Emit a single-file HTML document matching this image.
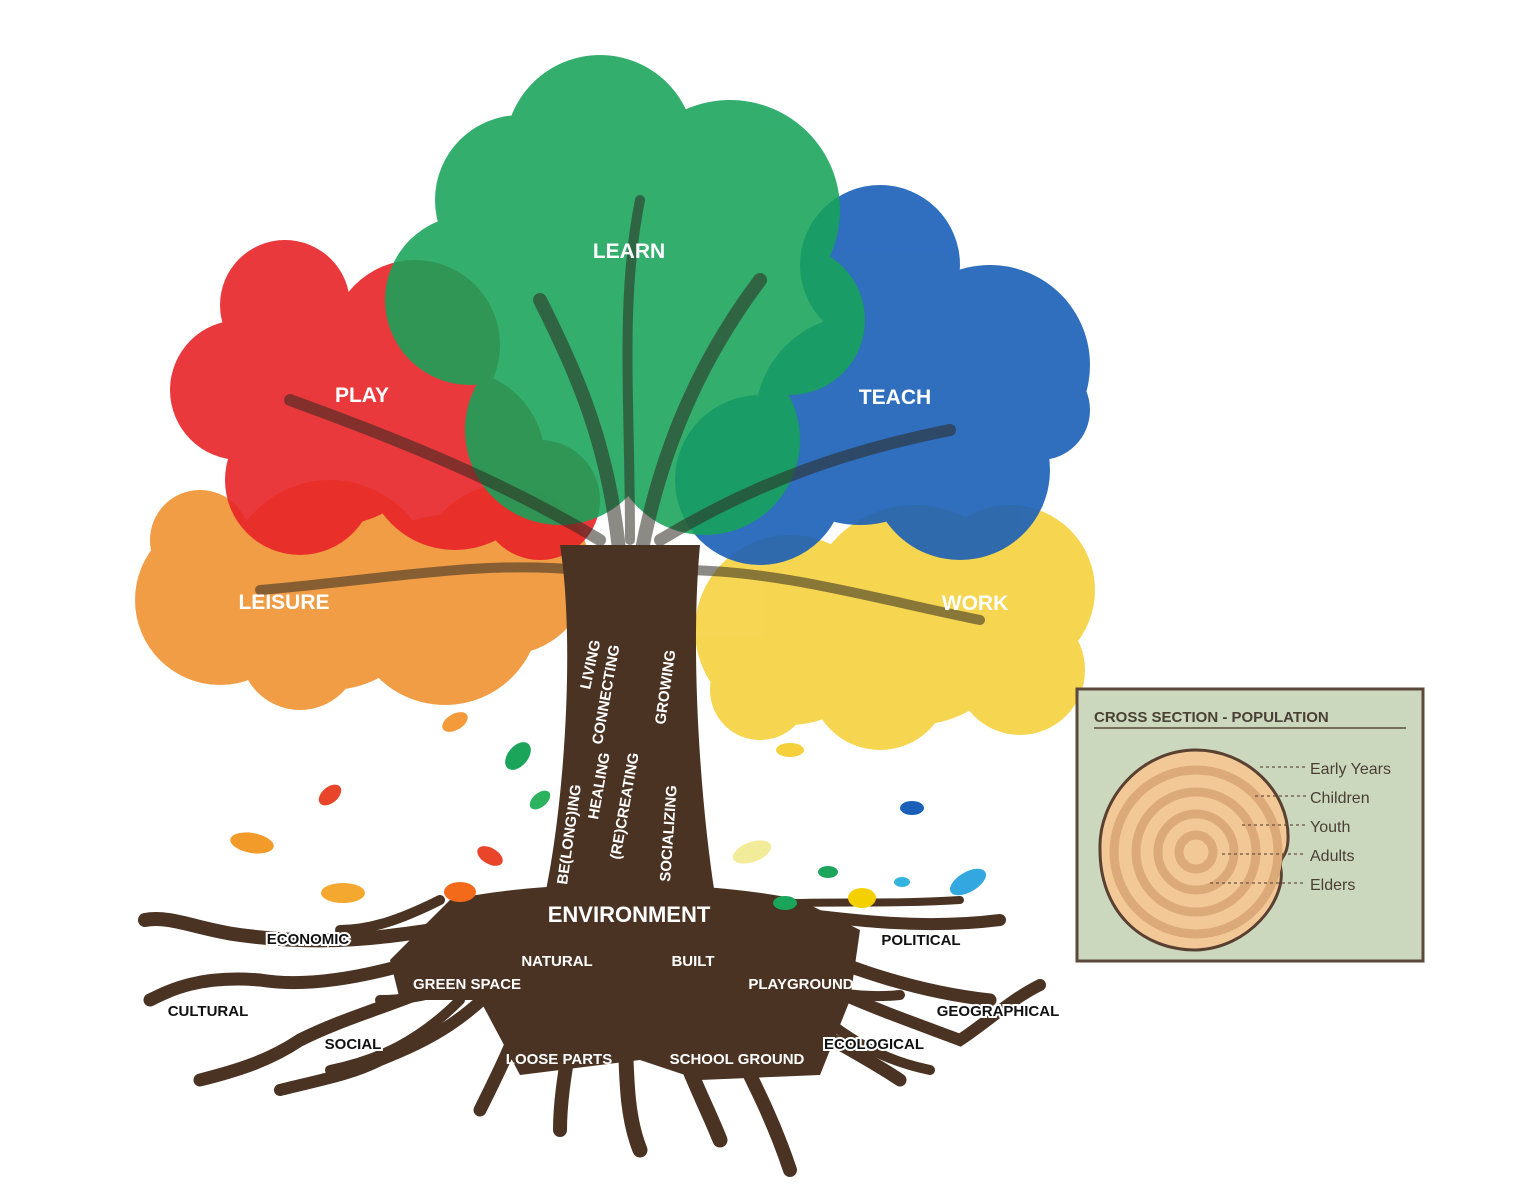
<!DOCTYPE html>
<html><head><meta charset="utf-8"><style>
html,body{margin:0;padding:0;background:#fff}
svg{display:block}
text{font-family:"Liberation Sans",sans-serif;font-weight:bold}
</style></head><body>
<svg width="1536" height="1187" viewBox="0 0 1536 1187" xmlns="http://www.w3.org/2000/svg">
<rect width="1536" height="1187" fill="#fff"/>
<g fill="#f0902c" opacity="0.88">
<circle cx="220" cy="600" r="85"/><circle cx="330" cy="585" r="105"/><circle cx="445" cy="610" r="95"/><circle cx="300" cy="650" r="60"/><circle cx="505" cy="570" r="85"/><circle cx="200" cy="540" r="50"/>
</g>
<g fill="#f5d03a" opacity="0.88">
<circle cx="790" cy="630" r="95"/><circle cx="915" cy="615" r="110"/><circle cx="1010" cy="590" r="85"/><circle cx="880" cy="680" r="70"/><circle cx="1020" cy="670" r="65"/><circle cx="760" cy="690" r="50"/>
</g>
<g fill="#e82428" opacity="0.9">
<circle cx="285" cy="305" r="65"/><circle cx="240" cy="390" r="70"/><circle cx="335" cy="420" r="105"/><circle cx="415" cy="345" r="85"/><circle cx="455" cy="460" r="90"/><circle cx="300" cy="480" r="75"/><circle cx="540" cy="500" r="60"/>
</g>
<g fill="#1a5fb8" opacity="0.9">
<circle cx="880" cy="265" r="80"/><circle cx="990" cy="365" r="100"/><circle cx="860" cy="420" r="105"/><circle cx="960" cy="470" r="90"/><circle cx="760" cy="480" r="85"/><circle cx="1040" cy="410" r="50"/>
</g>
<g fill="#17a35a" opacity="0.88">
<circle cx="600" cy="150" r="95"/><circle cx="520" cy="200" r="85"/><circle cx="730" cy="210" r="110"/><circle cx="470" cy="300" r="85"/><circle cx="640" cy="300" r="150"/><circle cx="790" cy="320" r="75"/><circle cx="560" cy="430" r="95"/><circle cx="705" cy="440" r="95"/>
</g>
<g stroke="#2e2a20" stroke-opacity="0.55" fill="none" stroke-linecap="round">
<path d="M620,560 C610,450 580,380 540,300" stroke-width="14"/>
<path d="M640,560 C660,450 700,360 760,280" stroke-width="14"/>
<path d="M600,540 C500,480 400,440 290,400" stroke-width="12"/>
<path d="M660,540 C760,480 850,450 950,430" stroke-width="12"/>
<path d="M580,570 C480,560 380,580 260,590" stroke-width="10"/>
<path d="M680,570 C780,570 880,600 980,620" stroke-width="10"/>
<path d="M630,540 C630,400 620,300 640,200" stroke-width="10"/>
</g>
<path d="M560,545 C575,640 565,800 545,895 L715,895 C700,800 690,650 700,545 Z" fill="#4a3323"/>
<path d="M450,900 C540,880 700,878 800,900 L860,930 L850,1000 L820,1075 L700,1080 L640,1060 L520,1075 L480,1000 L400,1000 L390,960 Z" fill="#4a3323"/>
<g stroke="#4a3323" fill="none" stroke-linecap="round">
<path d="M500,920 C420,930 350,950 240,935 C200,930 170,915 145,920" stroke-width="14"/>
<path d="M480,940 C400,970 320,990 260,980 C200,975 170,990 150,1000" stroke-width="13"/>
<path d="M500,955 C420,1000 360,1010 300,1040 C270,1060 240,1070 200,1080" stroke-width="13"/>
<path d="M520,960 C470,1020 430,1040 380,1060 C350,1075 320,1080 280,1090" stroke-width="12"/>
<path d="M440,900 C400,920 370,930 340,930" stroke-width="10"/>
<path d="M540,965 C520,1030 500,1070 480,1110" stroke-width="13"/>
<path d="M580,965 C575,1030 560,1080 560,1130" stroke-width="14"/>
<path d="M620,965 C630,1040 620,1100 640,1150" stroke-width="15"/>
<path d="M660,965 C670,1040 700,1090 720,1140" stroke-width="15"/>
<path d="M700,960 C720,1030 760,1080 790,1170" stroke-width="14"/>
<path d="M730,955 C780,1020 840,1040 900,1080" stroke-width="13"/>
<path d="M750,945 C820,990 880,1010 960,1040 C990,1020 1010,1000 1040,985" stroke-width="12"/>
<path d="M760,930 C830,960 900,990 990,1000" stroke-width="13"/>
<path d="M770,910 C850,920 920,930 1000,920" stroke-width="12"/>
<path d="M760,905 C820,900 880,905 960,900" stroke-width="8"/>
<path d="M520,955 C460,990 420,1000 380,1000" stroke-width="10"/>
<path d="M740,950 C800,990 850,1000 900,995" stroke-width="10"/>
<path d="M460,1000 C420,1040 380,1060 330,1070" stroke-width="10"/>
<path d="M800,1000 C850,1040 880,1060 930,1070" stroke-width="10"/>
</g>
<g>
<ellipse cx="455" cy="722" rx="14" ry="8" fill="#f39a3a" transform="rotate(-30 455 722)"/>
<ellipse cx="518" cy="756" rx="16" ry="10" fill="#1aa55a" transform="rotate(-50 518 756)"/>
<ellipse cx="330" cy="795" rx="13" ry="8" fill="#e8452a" transform="rotate(-40 330 795)"/>
<ellipse cx="540" cy="800" rx="12" ry="7" fill="#2db35f" transform="rotate(-40 540 800)"/>
<ellipse cx="252" cy="843" rx="22" ry="10" fill="#f29a2a" transform="rotate(10 252 843)"/>
<ellipse cx="490" cy="856" rx="14" ry="8" fill="#e8452a" transform="rotate(30 490 856)"/>
<ellipse cx="790" cy="750" rx="14" ry="7" fill="#f5d03a"/>
<ellipse cx="912" cy="808" rx="12" ry="7" fill="#1a5fb8"/>
<ellipse cx="752" cy="852" rx="20" ry="10" fill="#f2ec9a" transform="rotate(-20 752 852)"/>
<ellipse cx="828" cy="872" rx="10" ry="6" fill="#1aa55a"/>
<ellipse cx="862" cy="898" rx="14" ry="10" fill="#f5d000"/>
<ellipse cx="902" cy="882" rx="8" ry="5" fill="#33b5e0"/>
<ellipse cx="968" cy="882" rx="20" ry="10" fill="#33a8e0" transform="rotate(-30 968 882)"/>
<ellipse cx="343" cy="893" rx="22" ry="10" fill="#f5a830"/>
<ellipse cx="460" cy="892" rx="16" ry="10" fill="#f26a1a"/>
<ellipse cx="785" cy="903" rx="12" ry="7" fill="#1aa55a"/>
</g>
<g fill="#fff" font-size="21" text-anchor="middle">
<text x="629" y="258">LEARN</text>
<text x="362" y="402">PLAY</text>
<text x="895" y="404">TEACH</text>
<text x="284" y="609">LEISURE</text>
<text x="975" y="610">WORK</text>
</g>
<g fill="#fff" font-size="15">
<text transform="translate(590,690) rotate(-78)">LIVING</text>
<text transform="translate(602,745) rotate(-80)">CONNECTING</text>
<text transform="translate(665,725) rotate(-82)">GROWING</text>
<text transform="translate(567,885) rotate(-82)">BE(LONG)ING</text>
<text transform="translate(598,820) rotate(-80)">HEALING</text>
<text transform="translate(620,860) rotate(-80)">(RE)CREATING</text>
<text transform="translate(670,882) rotate(-86)">SOCIALIZING</text>
</g>
<text x="629" y="922" fill="#fff" font-size="22" text-anchor="middle">ENVIRONMENT</text>
<g fill="#fff" font-size="15" text-anchor="middle">
<text x="557" y="966">NATURAL</text>
<text x="693" y="966">BUILT</text>
<text x="467" y="989">GREEN SPACE</text>
<text x="801" y="989">PLAYGROUND</text>
<text x="559" y="1064">LOOSE PARTS</text>
<text x="737" y="1064">SCHOOL GROUND</text>
</g>
<g fill="#111" font-size="15" text-anchor="middle" stroke="#fff" stroke-width="4" paint-order="stroke">
<text x="308" y="944">ECONOMIC</text>
<text x="208" y="1016">CULTURAL</text>
<text x="353" y="1049">SOCIAL</text>
<text x="921" y="945">POLITICAL</text>
<text x="998" y="1016">GEOGRAPHICAL</text>
<text x="874" y="1049">ECOLOGICAL</text>
</g>
<rect x="1077" y="689" width="346" height="272" fill="#cbd8bd" stroke="#5b4a3b" stroke-width="3"/>
<text x="1094" y="722" font-size="15" fill="#4a4035">CROSS SECTION - POPULATION</text>
<line x1="1094" y1="728" x2="1406" y2="728" stroke="#5b4a3b" stroke-width="1.5"/>
<path d="M1196,750 C1245,750 1290,790 1288,840 C1287,860 1278,855 1281,870 C1285,900 1250,948 1196,950 C1140,950 1100,910 1100,850 C1098,800 1140,750 1196,750 Z" fill="#f2c896" stroke="#5a4030" stroke-width="3"/>
<g fill="none" stroke="#dcaa78" stroke-width="9">
<circle cx="1196" cy="852" r="82"/><circle cx="1196" cy="852" r="60"/><circle cx="1196" cy="852" r="38"/><circle cx="1196" cy="852" r="17"/>
</g>
<g stroke="#6a5040" stroke-dasharray="3,3" stroke-width="1.2">
<line x1="1260" y1="767" x2="1306" y2="767"/><line x1="1255" y1="796" x2="1306" y2="796"/><line x1="1242" y1="825" x2="1306" y2="825"/><line x1="1222" y1="854" x2="1306" y2="854"/><line x1="1210" y1="883" x2="1306" y2="883"/>
</g>
<g fill="#4a4035" font-size="16">
<text x="1310" y="774" style="font-weight:normal">Early Years</text>
<text x="1310" y="803" style="font-weight:normal">Children</text>
<text x="1310" y="832" style="font-weight:normal">Youth</text>
<text x="1310" y="861" style="font-weight:normal">Adults</text>
<text x="1310" y="890" style="font-weight:normal">Elders</text>
</g>
</svg>
</body></html>
